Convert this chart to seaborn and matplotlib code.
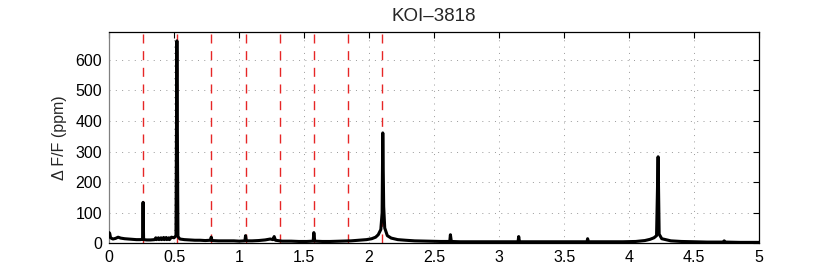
import matplotlib
matplotlib.use("Agg")
import matplotlib.pyplot as plt
import seaborn as sns
import pandas as pd

freq = [0.000, 0.005, 0.012, 0.03, 0.05, 0.07, 0.09, 0.12, 0.15, 0.18, 0.21, 0.24,
        0.258, 0.262, 0.266, 0.29, 0.32, 0.35, 0.36, 0.365, 0.38, 0.385, 0.40, 0.405,
        0.42, 0.425, 0.44, 0.445, 0.46, 0.465, 0.48, 0.50, 0.515, 0.522, 0.530, 0.545,
        0.58, 0.62, 0.66, 0.70, 0.74, 0.78, 0.786, 0.792, 0.84, 0.90, 0.96, 1.00,
        1.045, 1.05, 1.056, 1.10, 1.15, 1.20, 1.24, 1.26, 1.27, 1.28, 1.33, 1.40,
        1.46, 1.52, 1.570, 1.575, 1.582, 1.64, 1.70, 1.78, 1.86, 1.92, 1.98, 2.02,
        2.05, 2.07, 2.09, 2.100, 2.105, 2.112, 2.12, 2.14, 2.17, 2.22, 2.28, 2.35,
        2.45, 2.55, 2.62, 2.625, 2.632, 2.70, 2.80, 2.90, 3.00, 3.10, 3.145, 3.15,
        3.156, 3.25, 3.40, 3.55, 3.675, 3.68, 3.686, 3.80, 3.95, 4.05, 4.12, 4.16,
        4.19, 4.21, 4.222, 4.23, 4.25, 4.28, 4.32, 4.40, 4.50, 4.60, 4.72, 4.73,
        4.74, 4.85, 5.00]
amp = [35, 33, 18, 14, 16, 20, 17, 15, 14, 13, 12, 12,
       13, 134, 12, 11, 11, 12, 18, 12, 18, 12, 18, 12,
       19, 12, 19, 12, 18, 12, 20, 18, 25, 662, 22, 14,
       12, 11, 10, 10, 9, 10, 20, 9, 8, 8, 8, 7,
       8, 25, 8, 8, 9, 11, 14, 12, 22, 10, 7, 7,
       6, 6, 7, 35, 7, 6, 6, 7, 8, 10, 12, 15,
       20, 28, 45, 100, 361, 120, 50, 25, 17, 12, 10, 8,
       7, 6, 6, 28, 6, 5, 5, 5, 5, 5, 5, 22,
       5, 5, 5, 5, 5, 15, 5, 5, 5, 6, 9, 13,
       18, 25, 283, 30, 15, 12, 8, 6, 5, 4, 4, 8,
       4, 3, 3]

harmonics = [0.263, 0.525, 0.788, 1.050, 1.313, 1.575, 1.838, 2.100]
xticks = [0, 0.5, 1, 1.5, 2, 2.5, 3, 3.5, 4, 4.5, 5]
xticklabels = ["0", "0.5", "1", "1.5", "2", "2.5", "3", "3.5", "4", "4.5", "5"]
yticks = [0, 100, 200, 300, 400, 500, 600]

sns.set_style("white")
plt.rcParams['font.family'] = ['Liberation Sans', 'DejaVu Sans']

df = pd.DataFrame({"freq": freq, "amp": amp})

fig = plt.figure(figsize=(8.39, 2.74), dpi=100)
ax = fig.add_axes([109/839, 1 - 243.3/274, 650.3/839, 211.6/274])

for h in harmonics:
    ax.axvline(h, color=(0.9, 0.15, 0.15), lw=1.0, dashes=(6.5, 5.5), zorder=1)

sns.lineplot(data=df, x="freq", y="amp", ax=ax, color="black", lw=2.2,
             estimator=None, sort=False, zorder=3)

ax.set_xlim(0, 5)
ax.set_ylim(0, 692)
ax.set_xticks(xticks)
ax.set_xticklabels(xticklabels)
ax.set_yticks(yticks)
ax.grid(True, linestyle=(0, (1, 5.5)), color="0.6", lw=0.7, zorder=0)
ax.tick_params(direction="in", length=4.5, width=0.8, top=True, right=True,
               labelsize=11.5, pad=5, colors="black")
for s in ax.spines.values():
    s.set_visible(True)
    s.set_color("black")
    s.set_linewidth(0.9)
ax.spines["left"].set_color("0.5")
ax.set_xlabel("")
ax.set_ylabel("Δ F/F (ppm)", fontsize=11.5, labelpad=6)
ax.set_title("KOI\u20133818", fontsize=13.5, pad=8)

fig.savefig("out.png", dpi=100)
